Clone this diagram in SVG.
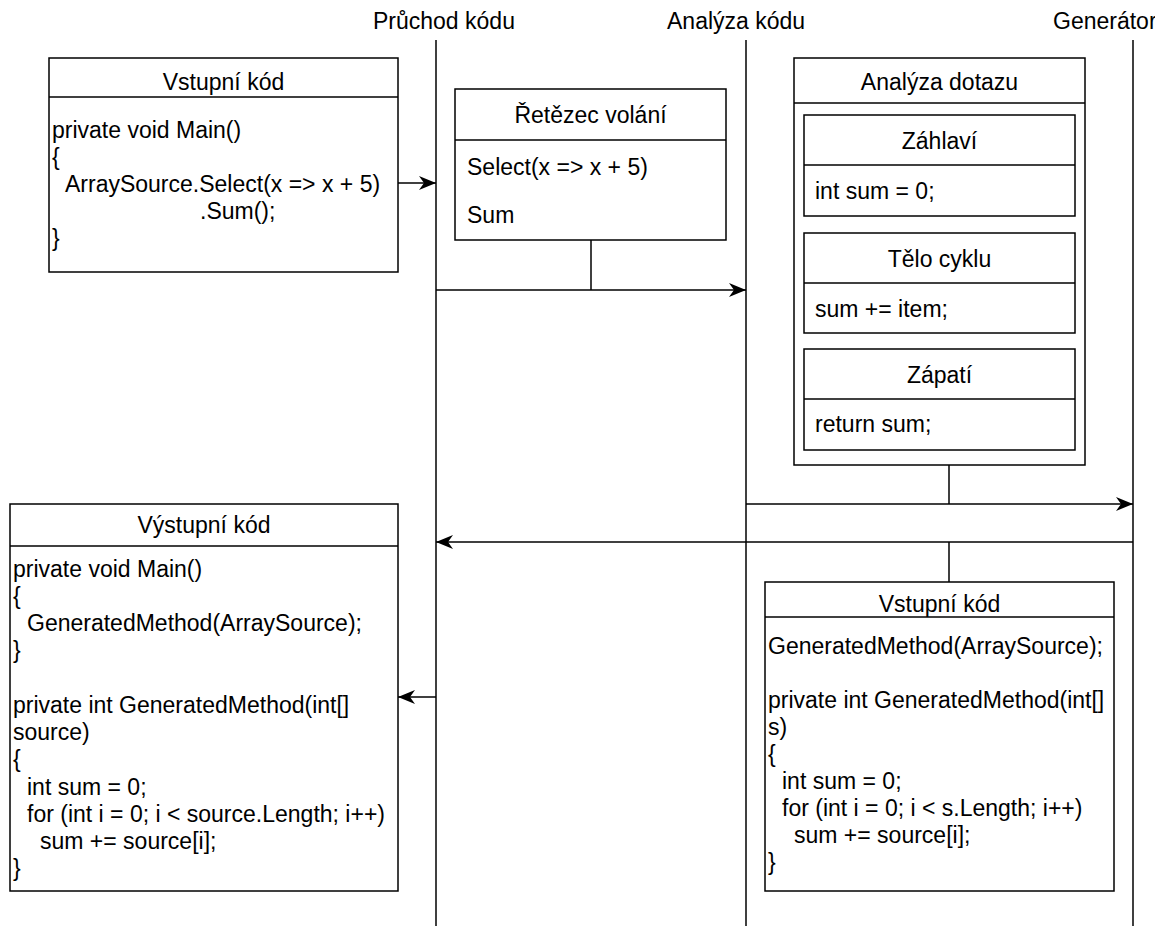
<svg xmlns="http://www.w3.org/2000/svg" width="1155" height="926" viewBox="0 0 1155 926">
<defs>
<style>
text{font-family:"Liberation Sans",Arial,Helvetica,sans-serif;font-size:23px;fill:#000}
.c{text-anchor:middle}
.box{fill:#fff;stroke:#000;stroke-width:1.5}
.ln{fill:none;stroke:#000;stroke-width:1.5}
</style>
<marker id="arr" markerUnits="userSpaceOnUse" markerWidth="20" markerHeight="16" viewBox="-17 -8 20 16" refX="0" refY="0" orient="auto">
<path d="M0,0 L-17,-7 L-12,0 L-17,7 Z" fill="#000"/>
</marker>
</defs>
<rect width="1155" height="926" fill="#fff"/>

<g id="lifelines">
<text x="373" y="29">Průchod kódu</text>
<text x="667" y="29">Analýza kódu</text>
<text x="1053" y="29">Generátor</text>
<line class="ln" x1="436" y1="40" x2="436" y2="926"/>
<line class="ln" x1="746" y1="40" x2="746" y2="926"/>
<line class="ln" x1="1133" y1="40" x2="1133" y2="926"/>
</g>

<g id="connectors">
<line class="ln" x1="398" y1="183" x2="436" y2="183" marker-end="url(#arr)"/>
<line class="ln" x1="591" y1="240" x2="591" y2="290"/>
<line class="ln" x1="436" y1="290" x2="746" y2="290" marker-end="url(#arr)"/>
<line class="ln" x1="949" y1="465" x2="949" y2="504"/>
<line class="ln" x1="746" y1="504" x2="1133" y2="504" marker-end="url(#arr)"/>
<line class="ln" x1="1133" y1="542" x2="436" y2="542" marker-end="url(#arr)"/>
<line class="ln" x1="949" y1="542" x2="949" y2="582"/>
<line class="ln" x1="436" y1="697" x2="398" y2="697" marker-end="url(#arr)"/>
</g>

<g id="input-code">
<rect class="box" x="49" y="58" width="349" height="214"/>
<line class="ln" x1="49" y1="97" x2="398" y2="97"/>
<text class="c" x="223.5" y="90">Vstupní kód</text>
<text x="52" y="138">private void Main()</text>
<text x="52" y="165">{</text>
<text x="65" y="192">ArraySource.Select(x =&gt; x + 5)</text>
<text x="200" y="219">.Sum();</text>
<text x="52" y="246">}</text>
</g>

<g id="call-chain">
<rect class="box" x="455" y="89" width="271" height="151"/>
<line class="ln" x1="455" y1="140" x2="726" y2="140"/>
<text class="c" x="590.5" y="123">Řetězec volání</text>
<text x="467" y="175">Select(x =&gt; x + 5)</text>
<text x="467" y="223">Sum</text>
</g>

<g id="query-analysis">
<rect class="box" x="794" y="58" width="291" height="407"/>
<line class="ln" x1="794" y1="103" x2="1085" y2="103"/>
<text class="c" x="939.5" y="90">Analýza dotazu</text>
<g id="header">
<rect class="box" x="804" y="115" width="271" height="101"/>
<line class="ln" x1="804" y1="165" x2="1075" y2="165"/>
<text class="c" x="939.5" y="149">Záhlaví</text>
<text x="815" y="199">int sum = 0;</text>
</g>
<g id="loop-body">
<rect class="box" x="804" y="233" width="271" height="100"/>
<line class="ln" x1="804" y1="283" x2="1075" y2="283"/>
<text class="c" x="939.5" y="267">Tělo cyklu</text>
<text x="815" y="317">sum += item;</text>
</g>
<g id="footer">
<rect class="box" x="804" y="349" width="271" height="101"/>
<line class="ln" x1="804" y1="399" x2="1075" y2="399"/>
<text class="c" x="939.5" y="383">Zápatí</text>
<text x="815" y="432">return sum;</text>
</g>
</g>

<g id="generated-code">
<rect class="box" x="765" y="582" width="349" height="309"/>
<line class="ln" x1="765" y1="617" x2="1114" y2="617"/>
<text class="c" x="939.5" y="612">Vstupní kód</text>
<text x="768" y="654">GeneratedMethod(ArraySource);</text>
<text x="768" y="708">private int GeneratedMethod(int[]</text>
<text x="768" y="735">s)</text>
<text x="768" y="762">{</text>
<text x="782" y="789">int sum = 0;</text>
<text x="782" y="816">for (int i = 0; i &lt; s.Length; i++)</text>
<text x="794" y="843">sum += source[i];</text>
<text x="768" y="870">}</text>
</g>

<g id="output-code">
<rect class="box" x="10" y="504" width="388" height="387"/>
<line class="ln" x1="10" y1="546" x2="398" y2="546"/>
<text class="c" x="204" y="533">Výstupní kód</text>
<text x="13" y="577">private void Main()</text>
<text x="13" y="604">{</text>
<text x="27" y="631">GeneratedMethod(ArraySource);</text>
<text x="13" y="658">}</text>
<text x="13" y="713">private int GeneratedMethod(int[]</text>
<text x="13" y="740">source)</text>
<text x="13" y="767">{</text>
<text x="27" y="795">int sum = 0;</text>
<text x="27" y="822">for (int i = 0; i &lt; source.Length; i++)</text>
<text x="40" y="849">sum += source[i];</text>
<text x="13" y="876">}</text>
</g>
</svg>
